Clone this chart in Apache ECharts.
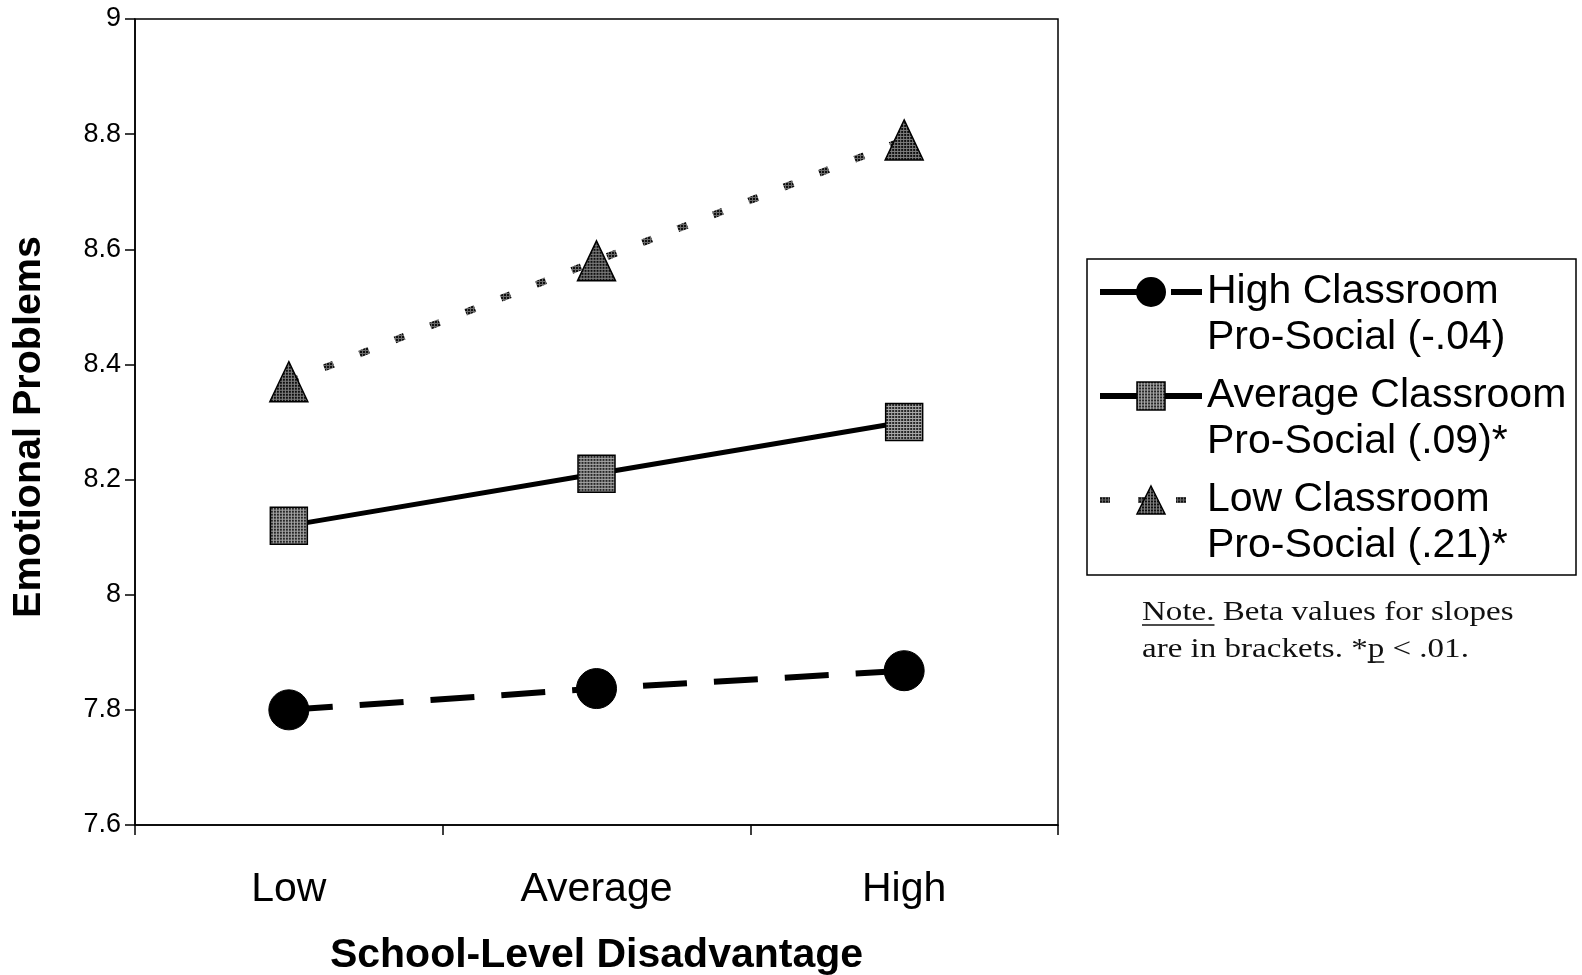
<!DOCTYPE html>
<html>
<head>
<meta charset="utf-8">
<script src="https://cdn.jsdelivr.net/npm/echarts@6/dist/echarts.min.js"></script>
<style>html,body{margin:0;padding:0;background:#fff}#c{width:1582px;height:975px}</style>
</head>
<body>
<div id="c"></div>
<script>
const categories = ['Low', 'Average', 'High'];
const seriesNames = ['High Classroom\nPro-Social (-.04)', 'Average Classroom\nPro-Social (.09)*', 'Low Classroom\nPro-Social (.21)*'];
const highValues = [7.80, 7.837, 7.868];
const averageValues = [8.12, 8.21, 8.30];
const lowValues = [8.37, 8.58, 8.79];
const yTicks = [7.6, 7.8, 8, 8.2, 8.4, 8.6, 8.8, 9];
const noteLine1 = 'Note. Beta values for slopes';
const noteLine2 = 'are in brackets. *p < .01.';

function makePattern(bg, dot, s) {
  const c = document.createElement('canvas');
  c.width = 3; c.height = 3;
  const g = c.getContext('2d');
  g.fillStyle = bg; g.fillRect(0, 0, 3, 3);
  g.fillStyle = dot; g.fillRect(0, 0, 2, 2);
  return { image: c, repeat: 'repeat', scaleX: s ? s[0] : 1, scaleY: s ? s[1] : 1 };
}
const SQ = 37, TRI = [38, 40];
const patSquare = makePattern('#a8a8a8', '#262626', [2 / SQ, 2 / SQ]);
const patTri = makePattern('#808080', '#0e0e0e', [2 / TRI[0], 2 / TRI[1]]);
const patSquareLeg = makePattern('#a8a8a8', '#262626');
const patTriLeg = makePattern('#808080', '#0e0e0e');
const patLine = makePattern('#6a6a6a', '#111');

const FONT = 'Liberation Sans, Arial, sans-serif';
const NOTE_FONT = '28px "Liberation Serif", "Times New Roman", serif';
const NOTE_SX = 1.18;
const mctx = document.createElement('canvas').getContext('2d');
mctx.font = NOTE_FONT;
const w = s => mctx.measureText(s).width * NOTE_SX;
const noteX = 1142;
const preP = w('are in brackets. *');
const pW = w('p');

const chart = echarts.init(document.getElementById('c'), null, { renderer: 'canvas' });
chart.setOption({
  animation: false,
  backgroundColor: '#fff',
  textStyle: { fontFamily: FONT },
  grid: { left: 135, top: 19, right: 524, bottom: 150, containLabel: false, outerBoundsMode: 'none', show: true, borderColor: '#000', borderWidth: 1.5, backgroundColor: 'transparent' },
  xAxis: {
    type: 'category', data: categories, boundaryGap: true,
    name: 'School-Level Disadvantage', nameLocation: 'middle', nameGap: 110,
    nameTextStyle: { fontSize: 41, fontWeight: 'bold', color: '#000', fontFamily: FONT },
    axisLine: { lineStyle: { color: '#000', width: 1.5 } },
    axisTick: { show: true, length: 10, lineStyle: { color: '#000', width: 1.5 } },
    axisLabel: { fontSize: 41, color: '#000', margin: 44 },
    splitLine: { show: false }
  },
  yAxis: {
    type: 'value', min: 7.6, max: 9, interval: 0.2,
    name: 'Emotional Problems', nameLocation: 'middle', nameGap: 86, nameRotate: 90,
    nameTextStyle: { fontSize: 39.5, fontWeight: 'bold', color: '#000', fontFamily: FONT, padding: [0, 10, 0, 0] },
    axisLine: { show: true, lineStyle: { color: '#000', width: 1.5 } },
    axisTick: { show: true, length: 10, lineStyle: { color: '#000', width: 1.5 } },
    axisLabel: { fontSize: 27, color: '#000', margin: 14, formatter: v => { const t = yTicks.find(x => Math.abs(x - v) < 1e-6); return t === undefined ? '' : String(t); } },
    splitLine: { show: false }
  },
  legend: {
    orient: 'vertical', left: 1097, top: 223,
    data: [
      { name: seriesNames[0] },
      { name: seriesNames[1], itemStyle: { color: patSquareLeg, borderColor: '#000', borderWidth: 1.5 } },
      { name: seriesNames[2], itemStyle: { color: patTriLeg, borderColor: '#000', borderWidth: 1.5 } }
    ],
    formatter: name => '\n' + name,
    backgroundColor: 'transparent', borderWidth: 0,
    padding: 0, itemGap: -34,
    itemWidth: 102, itemHeight: 35,
    lineStyle: { width: 6 },
    textStyle: { fontSize: 41, color: '#000', lineHeight: 46, fontFamily: FONT },
    selectedMode: false
  },
  series: [
    {
      name: seriesNames[0], type: 'line', data: highValues,
      symbol: 'circle', symbolSize: 40,
      itemStyle: { color: '#000', borderColor: '#000', borderWidth: 1 },
      lineStyle: { color: '#000', width: 6, type: [44, 27] }
    },
    {
      name: seriesNames[1], type: 'line', data: averageValues,
      symbol: 'rect', symbolSize: SQ,
      itemStyle: { color: patSquare, borderColor: '#000', borderWidth: 1.5 },
      lineStyle: { color: '#000', width: 5, type: 'solid' }
    },
    {
      name: seriesNames[2], type: 'line', data: lowValues,
      symbol: 'triangle', symbolSize: TRI,
      itemStyle: { color: patTri, borderColor: '#000', borderWidth: 1.5 },
      lineStyle: { color: patLine, width: 7, type: [10, 28] }
    }
  ],
  graphic: [
    { type: 'rect', shape: { x: 1087, y: 259, width: 489, height: 316 }, style: { fill: 'transparent', stroke: '#000', lineWidth: 1.5 }, z: 1 },
    { type: 'text', x: noteX, y: 613, scaleX: NOTE_SX, style: { text: noteLine1, font: NOTE_FONT, fill: '#111', verticalAlign: 'middle', align: 'left' } },
    { type: 'text', x: noteX, y: 650, scaleX: NOTE_SX, style: { text: noteLine2, font: NOTE_FONT, fill: '#111', verticalAlign: 'middle', align: 'left' } },
    { type: 'line', shape: { x1: noteX, y1: 625, x2: noteX + w('Note.'), y2: 625 }, style: { stroke: '#111', lineWidth: 1.5 } },
    { type: 'line', shape: { x1: noteX + preP, y1: 662, x2: noteX + preP + pW, y2: 662 }, style: { stroke: '#111', lineWidth: 1.5 } }
  ]
});
</script>
</body>
</html>
